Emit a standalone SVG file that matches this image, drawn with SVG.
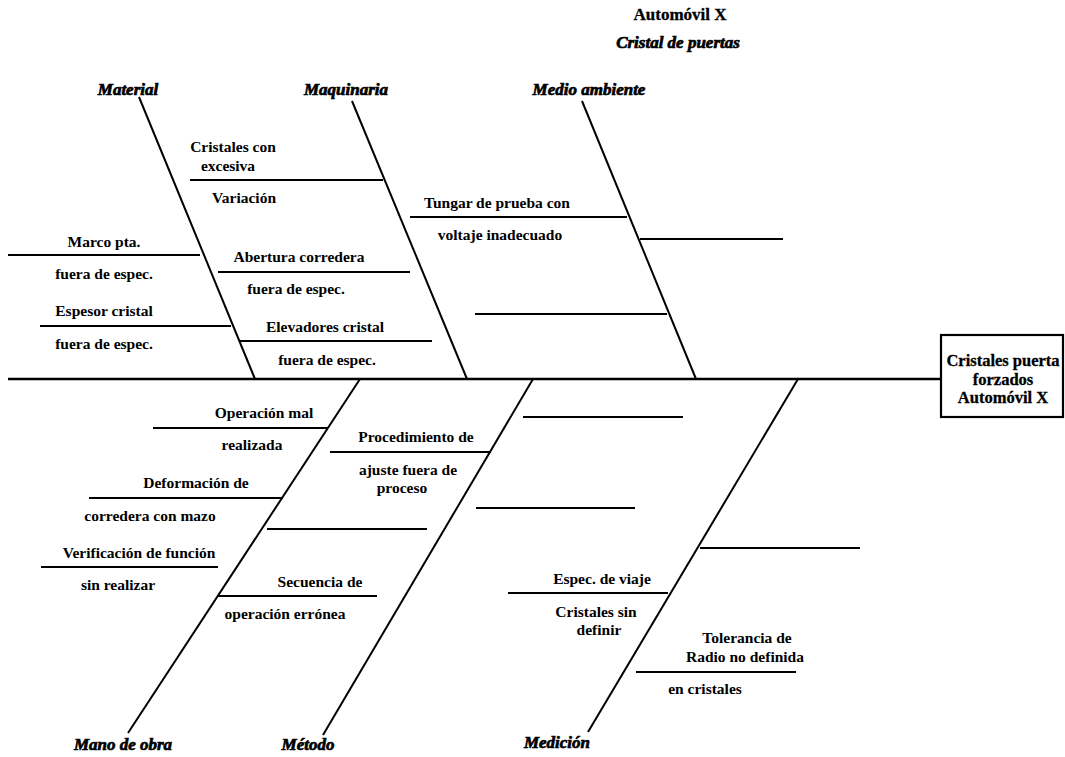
<svg xmlns="http://www.w3.org/2000/svg" width="1065" height="757" viewBox="0 0 1065 757">
  <style>
    .bg { fill: #ffffff; }
    .spine { stroke: #000; stroke-width: 2.4; fill: none; }
    .bone { stroke: #000; stroke-width: 2; fill: none; }
    .twig { stroke: #000; stroke-width: 1.8; fill: none; }
    .box { stroke: #000; stroke-width: 2.2; fill: #fff; }
    .t { font-family: "Liberation Serif", "Times New Roman", serif; font-weight: bold; font-size: 15.5px; fill: #000; text-anchor: middle; }
    .cat { font-family: "Liberation Serif", "Times New Roman", serif; font-weight: bold; font-style: italic; font-size: 17px; fill: #000; stroke: #000; stroke-width: 0.7; text-anchor: middle; }
    .head { font-family: "Liberation Serif", "Times New Roman", serif; font-weight: bold; font-size: 16.5px; fill: #000; stroke: #000; stroke-width: 0.3; text-anchor: middle; }
    .title { font-family: "Liberation Serif", "Times New Roman", serif; font-weight: bold; font-size: 17px; fill: #000; stroke: #000; stroke-width: 0.3; text-anchor: middle; }
  </style>
  <rect class="bg" x="0" y="0" width="1065" height="757"/>

  <!-- heading -->
  <g id="title">
    <text class="title" x="680" y="20">Automóvil X</text>
    <text class="cat" x="678" y="48">Cristal de puertas</text>
  </g>

  <!-- backbone and category bones -->
  <g id="connectors">
    <line class="spine" x1="8" y1="379" x2="941" y2="379"/>
    <line class="bone" x1="139" y1="97" x2="255" y2="379"/>
    <line class="bone" x1="352" y1="101" x2="467" y2="379"/>
    <line class="bone" x1="582" y1="101" x2="696" y2="379"/>
    <line class="bone" x1="360" y1="379" x2="128" y2="733"/>
    <line class="bone" x1="533" y1="379" x2="323" y2="735"/>
    <line class="bone" x1="798" y1="379" x2="588" y2="732"/>
  </g>

  <!-- effect -->
  <g id="effect">
    <rect class="box" x="941" y="335" width="122" height="82"/>
    <text class="head" x="1003" y="366">Cristales puerta</text>
    <text class="head" x="1003" y="385">forzados</text>
    <text class="head" x="1003" y="403">Automóvil X</text>
  </g>

  <!-- Material -->
  <g id="material">
    <text class="cat" x="128" y="95">Material</text>
    <line class="twig" x1="190" y1="180" x2="383" y2="180"/>
    <text class="t" x="233" y="152">Cristales con</text>
    <text class="t" x="228" y="171">excesiva</text>
    <text class="t" x="244" y="203">Variación</text>
    <line class="twig" x1="8" y1="255" x2="200" y2="255"/>
    <text class="t" x="104" y="247">Marco pta.</text>
    <text class="t" x="104" y="279">fuera de espec.</text>
    <line class="twig" x1="40" y1="326" x2="231" y2="326"/>
    <text class="t" x="104" y="316">Espesor cristal</text>
    <text class="t" x="104" y="349">fuera de espec.</text>
  </g>

  <!-- Maquinaria -->
  <g id="maquinaria">
    <text class="cat" x="346" y="95">Maquinaria</text>
    <line class="twig" x1="218" y1="272" x2="410" y2="272"/>
    <text class="t" x="299" y="262">Abertura corredera</text>
    <text class="t" x="296" y="294">fuera de espec.</text>
    <line class="twig" x1="240" y1="341" x2="432" y2="341"/>
    <text class="t" x="325" y="332">Elevadores cristal</text>
    <text class="t" x="327" y="365">fuera de espec.</text>
    <line class="twig" x1="410" y1="217" x2="627" y2="217"/>
    <text class="t" x="497" y="208">Tungar de prueba con</text>
    <text class="t" x="500" y="240">voltaje inadecuado</text>
    <line class="twig" x1="475" y1="314" x2="667" y2="314"/>
  </g>

  <!-- Medio ambiente -->
  <g id="medio-ambiente">
    <text class="cat" x="589" y="95">Medio ambiente</text>
    <line class="twig" x1="640" y1="239" x2="783" y2="239"/>
  </g>

  <!-- Mano de obra -->
  <g id="mano-de-obra">
    <text class="cat" x="123" y="750">Mano de obra</text>
    <line class="twig" x1="153" y1="428" x2="328" y2="428"/>
    <text class="t" x="264" y="418">Operación mal</text>
    <text class="t" x="252" y="450">realizada</text>
    <line class="twig" x1="89" y1="498" x2="283" y2="498"/>
    <text class="t" x="196" y="488">Deformación de</text>
    <text class="t" x="150" y="521">corredera con mazo</text>
    <line class="twig" x1="41" y1="567" x2="218" y2="567"/>
    <text class="t" x="139" y="558">Verificación de función</text>
    <text class="t" x="118" y="590">sin realizar</text>
    <line class="twig" x1="267" y1="529" x2="427" y2="529"/>
    <line class="twig" x1="217" y1="596" x2="377" y2="596"/>
    <text class="t" x="320" y="587">Secuencia de</text>
    <text class="t" x="285" y="619">operación errónea</text>
  </g>

  <!-- Método -->
  <g id="metodo">
    <text class="cat" x="308" y="750">Método</text>
    <line class="twig" x1="330" y1="452" x2="491" y2="452"/>
    <text class="t" x="416" y="442">Procedimiento de</text>
    <text class="t" x="408" y="475">ajuste fuera de</text>
    <text class="t" x="402" y="493">proceso</text>
    <line class="twig" x1="523" y1="417" x2="683" y2="417"/>
    <line class="twig" x1="476" y1="508" x2="635" y2="508"/>
  </g>

  <!-- Medición -->
  <g id="medicion">
    <text class="cat" x="557" y="748">Medición</text>
    <line class="twig" x1="508" y1="593" x2="668" y2="593"/>
    <text class="t" x="602" y="584">Espec. de viaje</text>
    <text class="t" x="596" y="617">Cristales sin</text>
    <text class="t" x="599" y="635">definir</text>
    <line class="twig" x1="700" y1="548" x2="860" y2="548"/>
    <line class="twig" x1="636" y1="672" x2="796" y2="672"/>
    <text class="t" x="747" y="643">Tolerancia de</text>
    <text class="t" x="745" y="662">Radio no definida</text>
    <text class="t" x="705" y="694">en cristales</text>
  </g>
</svg>
